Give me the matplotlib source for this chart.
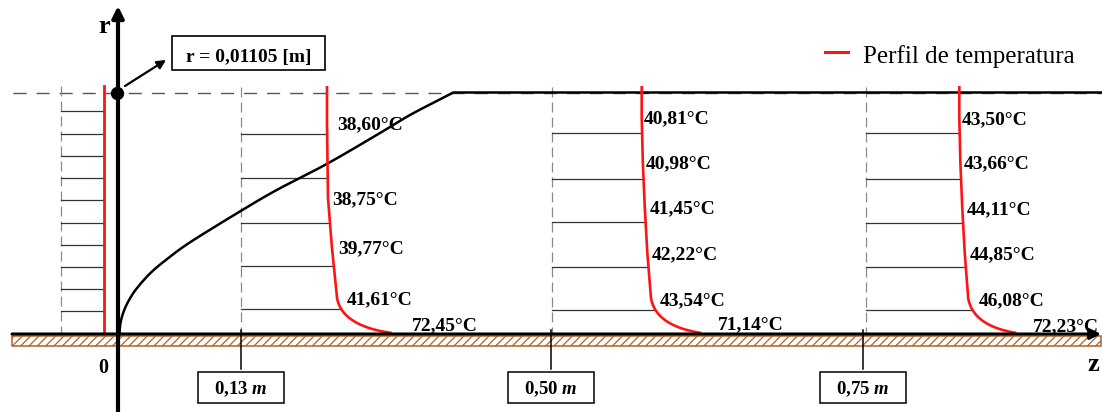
import numpy as np
import matplotlib
matplotlib.use("Agg")
import matplotlib.pyplot as plt
from matplotlib.patches import Rectangle

# ---------------- data ----------------
station_labels = ["0,13", "0,50", "0,75"]        # axial stations [m]
core_temps = [
    [38.60, 38.75, 39.77, 41.61],                 # z = 0,13 m
    [40.81, 40.98, 41.45, 42.22, 43.54],          # z = 0,50 m
    [43.50, 43.66, 44.11, 44.85, 46.08],          # z = 0,75 m
]
wall_temps = [72.45, 71.14, 72.23]                # temperature at the wall [°C]
radius_text = "r = 0,01105 [m]"
legend_text = "Perfil de temperatura"

# ---------------- layout (canvas pixels) ----------------
W, H = 1102, 412
Y_WALL, Y_TOP = 334, 92.5
X_RAXIS = 118
guide_x = [241, 552, 866]           # dashed guide of each station
tick_x = [241, 551, 863]            # tick on the z axis
profile_x0 = [327, 641.7, 959.3]    # red profile in the core region
row_y = [
    [123, 198, 246.7, 298],
    [116.7, 161.7, 206.7, 252.7, 298.3],
    [117.3, 161.7, 207.3, 252.7, 298.3],
]
label_x = [
    [336.7, 331.7, 338, 346.7],
    [644, 646, 649.3, 651.7, 659.3],
    [961.7, 963.3, 966.7, 970, 978.3],
]
wall_label_xy = [(411.7, 323.3), (718, 323), (1032.7, 325)]
grid_rows = [
    [134, 178, 223, 266, 309],
    [133, 179, 222.3, 266.7, 310],
    [133, 179, 222.5, 266.7, 310],
]
inlet_rows = [111, 134, 156, 178, 200, 223, 245, 267, 289, 311]
# thermal boundary-layer edge, sketched from the leading edge to r = R
bl_x = [119.5, 120.5, 123.5, 128.5, 136.5, 150.5, 166.5, 190.5, 240.7,
        276.7, 326.7, 376.7, 410, 453.3]
bl_y = [334, 323, 312, 301, 288.7, 273, 259.5, 242, 211,
        190, 164, 135, 115, Y_TOP]

RED = "#ff1414"
BROWN = "#b0622a"
SERIF = "Liberation Serif"

plt.rcParams["font.family"] = SERIF
plt.rcParams["mathtext.fontset"] = "custom"
plt.rcParams["mathtext.it"] = "Liberation Serif:italic:bold"
plt.rcParams["mathtext.rm"] = "Liberation Serif:bold"
plt.rcParams["hatch.color"] = BROWN
plt.rcParams["hatch.linewidth"] = 0.9


def temp_offset(t, t0):
    """Schematic (power-law) horizontal scale for temperature differences."""
    return 4.3 * np.power(np.maximum(t - t0, 0.0), 0.77)


def fmt(t):
    return f"{t:.2f}".replace(".", ",") + "°C"


def smooth(xs, ys, n=16):
    """Catmull-Rom pass through the sketch points."""
    p = np.column_stack([xs, ys]).astype(float)
    start = p[0] + np.array([0.0, 8.0])   # vertical tangent at the leading edge
    p = np.vstack([start, p, 2 * p[-1] - p[-2]])
    s = np.linspace(0, 1, n, endpoint=False)[:, None]
    out = []
    for k in range(1, len(p) - 2):
        p0, p1, p2, p3 = p[k - 1], p[k], p[k + 1], p[k + 2]
        out.append(0.5 * ((2 * p1) + (-p0 + p2) * s
                          + (2 * p0 - 5 * p1 + 4 * p2 - p3) * s ** 2
                          + (-p0 + 3 * p1 - 3 * p2 + p3) * s ** 3))
    out.append(p[-2][None, :])
    out = np.vstack(out)
    return out[:, 0], out[:, 1]


def profile_curve(i):
    t0 = core_temps[i][0]
    x0 = profile_x0[i]
    xs = [x0] + [x0 + temp_offset(t, t0) for t in core_temps[i]]
    ys = [86] + list(row_y[i])
    # knee towards the wall (quadratic Bezier)
    p0 = np.array([xs[-1], ys[-1]])
    p2 = np.array([x0 + temp_offset(wall_temps[i], t0), Y_WALL - 1])
    c = np.array([p0[0] + 5, Y_WALL - 8])
    s = np.linspace(0, 1, 40)[1:, None]
    bez = (1 - s) ** 2 * p0 + 2 * s * (1 - s) * c + s ** 2 * p2
    return np.concatenate([xs, bez[:, 0]]), np.concatenate([ys, bez[:, 1]])


fig = plt.figure(figsize=(W / 100, H / 100), dpi=100)
ax = fig.add_axes([0, 0, 1, 1])
ax.set_xlim(0, W)
ax.set_ylim(H, 0)
ax.axis("off")

# wall (hatched)
ax.add_patch(Rectangle((12, 335.5), W - 13, 10.5, facecolor="white",
                       edgecolor=BROWN, hatch="////", lw=1.1, zorder=1))

# r = R dashed line
ax.plot([13, W], [Y_TOP, Y_TOP], color="#555555", lw=1.0,
        dashes=(9.4, 7.2), zorder=2)

# inlet profile (uniform)
ax.plot([61, 61], [86, Y_WALL], color="#8a8a8a", lw=0.9, dashes=(8, 4), zorder=2)
for y in inlet_rows:
    ax.plot([61, 103], [y, y], color="#333333", lw=0.9, zorder=2)
ax.plot([104, 104], [86, 331], color=RED, lw=2.0, zorder=4)

# stations
for i in range(3):
    ax.plot([guide_x[i]] * 2, [87, Y_WALL], color="#8a8a8a", lw=0.9,
            dashes=(8, 4), zorder=2)
    px, py = profile_curve(i)
    for y in grid_rows[i]:
        xe = np.interp(y, py, px)
        ax.plot([guide_x[i], xe], [y, y], color="#333333", lw=0.9, zorder=2)
    ax.plot(px, py, color=RED, lw=1.9, zorder=4, solid_capstyle="butt")
    for t, lx, ly in zip(core_temps[i], label_x[i], row_y[i]):
        ax.text(lx, ly + 6.5, fmt(t), fontsize=14, fontweight="bold",
                ha="left", va="baseline", zorder=6)
    wx, wy = wall_label_xy[i]
    ax.text(wx, wy + 6.5, fmt(wall_temps[i]), fontsize=14, fontweight="bold",
            ha="left", va="baseline", zorder=6)
    # tick and station box
    ax.plot([tick_x[i]] * 2, [330, 369], color="black", lw=1.1, zorder=5)
    ax.add_patch(Rectangle((tick_x[i] - 43.3, 372), 86.6, 31, facecolor="white",
                           edgecolor="black", lw=1.1, zorder=5))
    ax.text(tick_x[i], 394, station_labels[i] + r" $m$", fontsize=13.5,
            fontweight="bold", ha="center", va="baseline", zorder=6)

# boundary-layer edge
cx, cy = smooth(bl_x, bl_y)
ax.plot(np.append(cx, W), np.append(cy, Y_TOP), color="black", lw=1.8,
        zorder=3, solid_joinstyle="round")

# axes
ax.annotate("", xy=(1101, Y_WALL), xytext=(12, Y_WALL),
            arrowprops=dict(arrowstyle="-|>", lw=2.2, color="black",
                            mutation_scale=16, shrinkA=0, shrinkB=0), zorder=5)
ax.annotate("", xy=(X_RAXIS, 6), xytext=(X_RAXIS, H + 2),
            arrowprops=dict(arrowstyle="-|>", lw=3.0, color="black",
                            mutation_scale=17, shrinkA=0, shrinkB=0), zorder=5)
ax.text(104, 33, "r", fontsize=19, fontweight="bold", ha="center", va="baseline")
ax.text(103, 373, "0", fontsize=14.5, fontweight="bold", ha="center", va="baseline")
ax.text(1093, 371, "z", fontsize=19, fontweight="bold", ha="center", va="baseline")

# pipe radius marker
ax.plot([117.3], [Y_TOP], marker="o", ms=8.6, color="black", zorder=7)
ax.annotate("", xy=(166, 60), xytext=(125, 86),
            arrowprops=dict(arrowstyle="-|>", lw=1.6, color="black",
                            mutation_scale=13, shrinkA=0, shrinkB=0))
ax.add_patch(Rectangle((171.7, 36), 153.3, 34, facecolor="white",
                       edgecolor="black", lw=1.2, zorder=5))
ax.text(248.3, 61.5, radius_text, fontsize=14, fontweight="bold",
        ha="center", va="baseline", zorder=6)

# legend
ax.plot([825, 848], [51.7, 51.7], color=RED, lw=2.2)
ax.text(863, 63.3, legend_text, fontsize=18, ha="left", va="baseline")

fig.savefig("out.png", dpi=100)
